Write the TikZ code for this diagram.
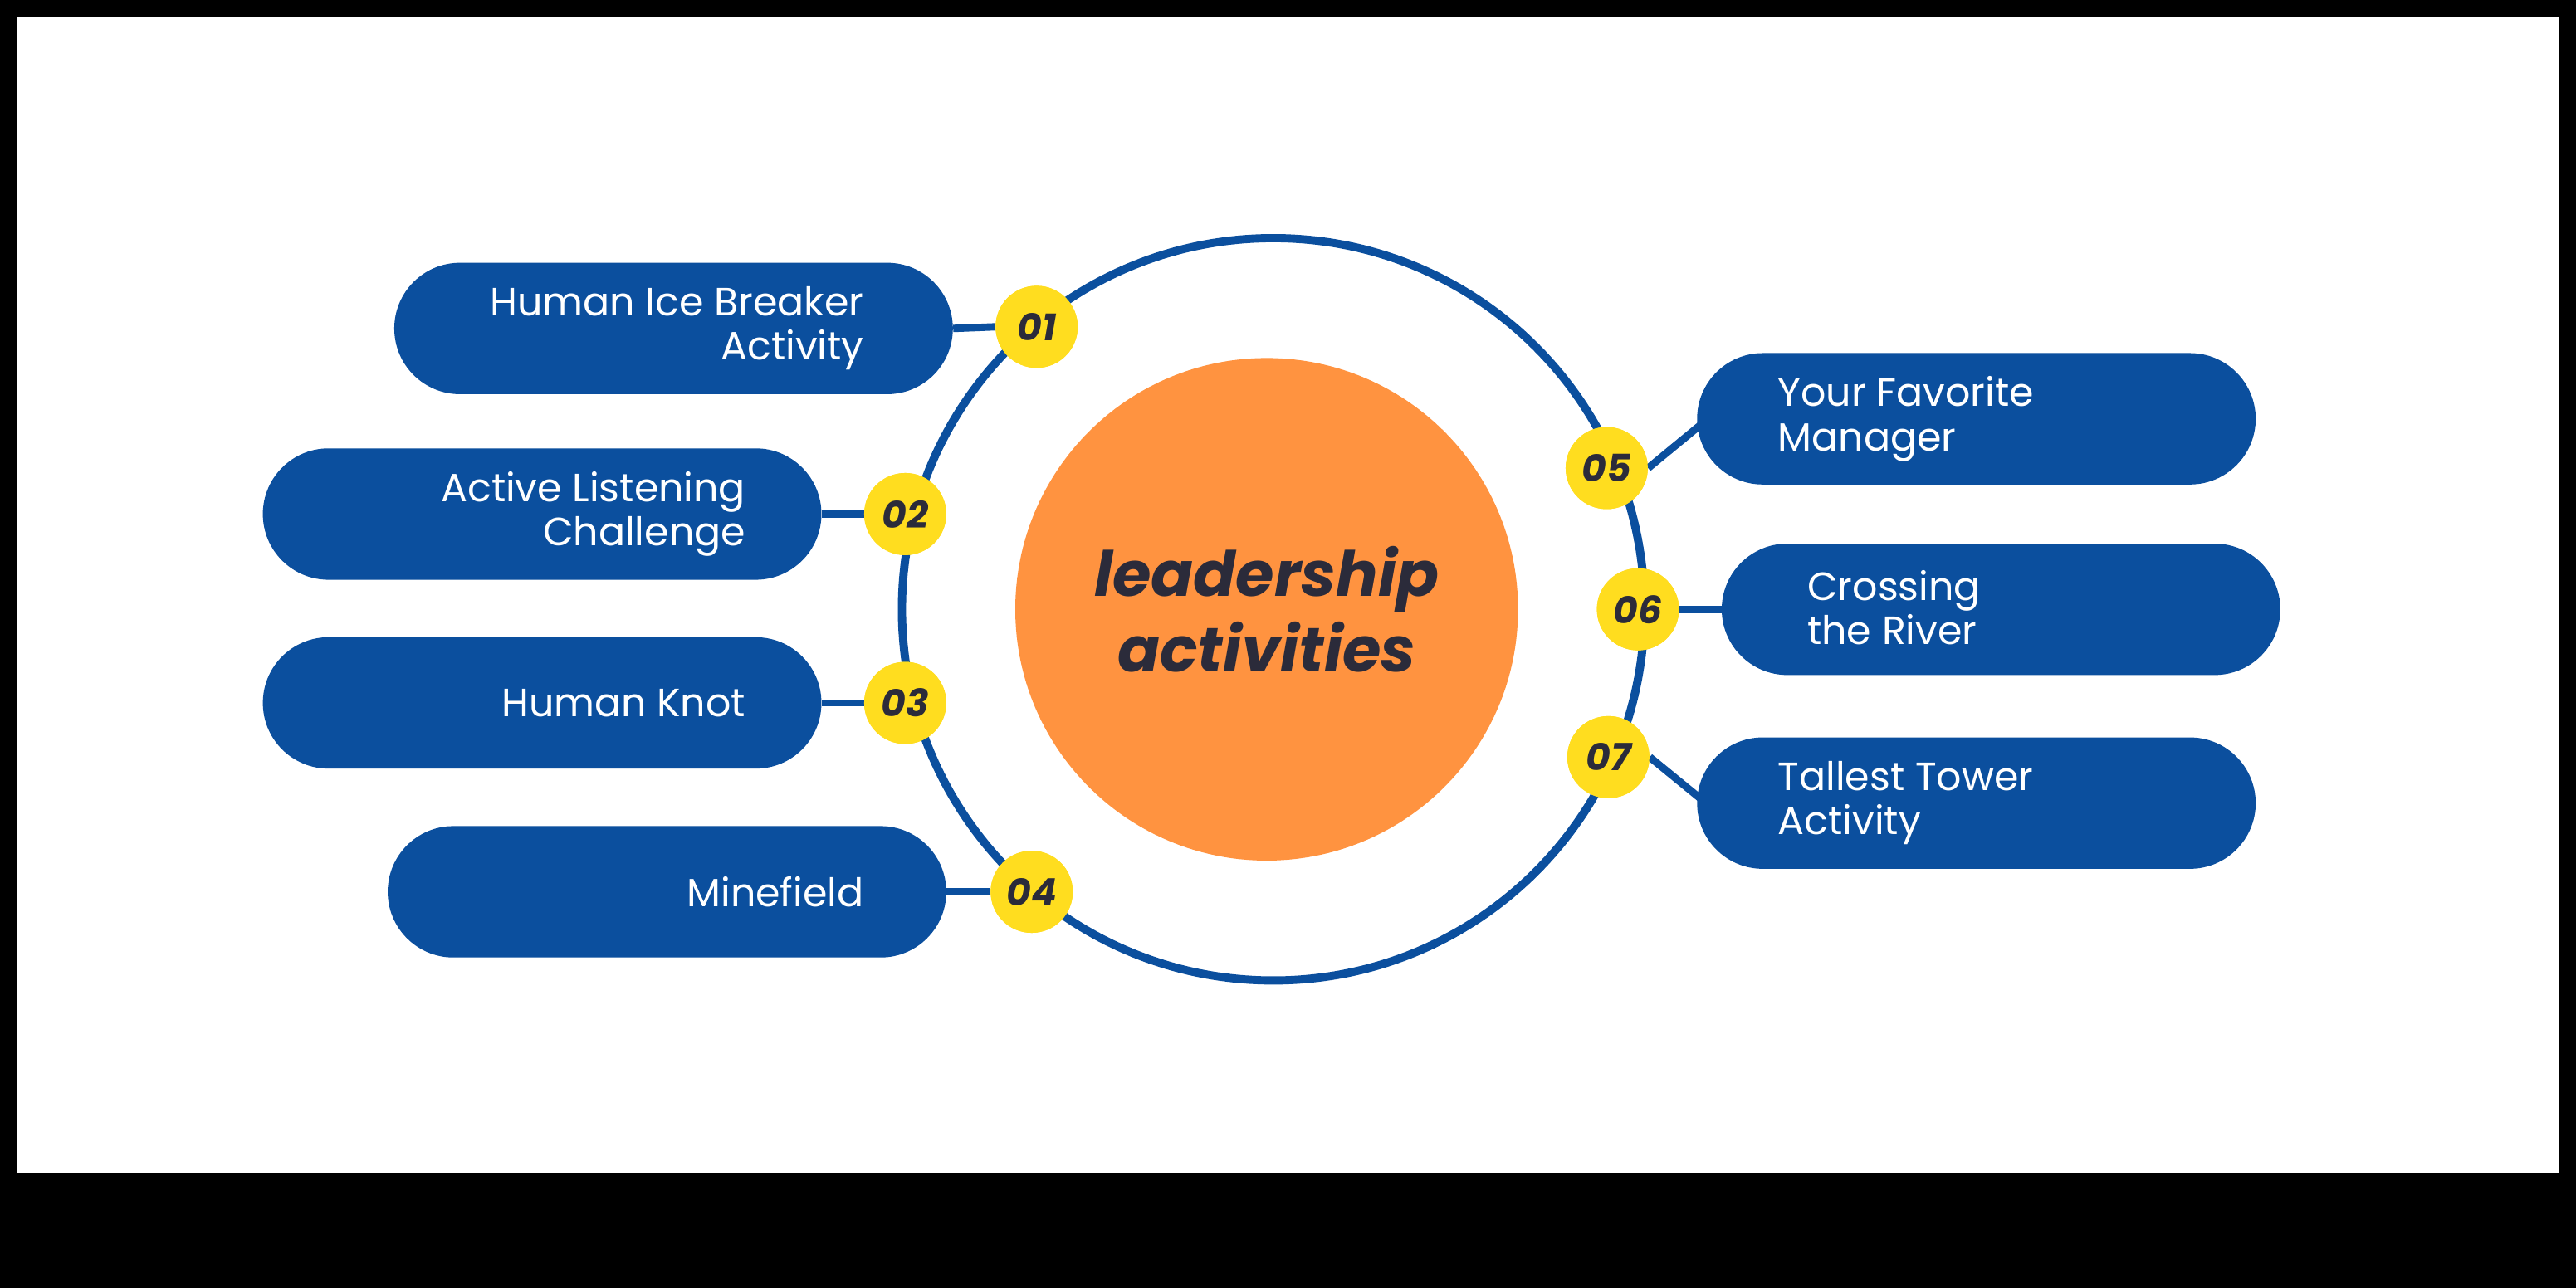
\documentclass[tikz,border=0pt]{standalone}
\usepackage{fontspec}
\setmainfont{Poppins}
\begin{document}
\definecolor{bl}{HTML}{0B4F9E}
\definecolor{org}{HTML}{FF9340}
\definecolor{yel}{HTML}{FFDD1F}
\definecolor{dk}{HTML}{2B2B3A}
\begin{tikzpicture}[x=1pt,y=-1pt,
 pill/.style={fill=bl,rounded corners=40pt,minimum width=340pt,minimum height=80pt,draw=none},
 ptxt/.style={text=white,font=\fontsize{24}{27}\selectfont,inner sep=0pt},
 num/.style={circle,fill=yel,minimum size=50pt,inner sep=0pt,font=\fontsize{23}{25}\selectfont\bfseries\itshape,text=dk},
 con/.style={draw=bl,line width=4.5pt}]
\fill (0,0) rectangle (1568,784);
\fill[white] (10,10) rectangle (1558,714);
\draw[bl,line width=5pt] (775,371) circle (226);
\node[circle,fill=org,minimum size=306pt,inner sep=0pt,align=center,text=dk,font=\fontsize{38}{46}\selectfont\bfseries\itshape] (c) at (771,371) {leadership\\activities};
% left pills
\node[pill] (p1) at (410,200) {};
\node[pill] (p2) at (330,313) {};
\node[pill] (p3) at (330,428) {};
\node[pill] (p4) at (406,543) {};
\node[pill] (p5) at (1203,255) {};
\node[pill] (p6) at (1218,371) {};
\node[pill] (p7) at (1203,489) {};
\node[ptxt,align=right,anchor=east] at (526,200) {Human Ice Breaker\\Activity};
\node[ptxt,align=right,anchor=east] at (454,313) {Active Listening\\Challenge};
\node[ptxt,align=right,anchor=east] at (454,428) {Human Knot};
\node[ptxt,align=right,anchor=east] at (526,543) {Minefield};
\node[ptxt,align=left,anchor=west] at (1082,255) {Your Favorite\\Manager};
\node[ptxt,align=left,anchor=west] at (1100,370) {Crossing\\the River};
\node[ptxt,align=left,anchor=west] at (1082,489) {Tallest Tower\\Activity};
\node[num] (n1) at (631,199) {01};
\node[num] (n2) at (551,313) {02};
\node[num] (n3) at (551,428) {03};
\node[num] (n4) at (628,543) {04};
\node[num] (n5) at (978,285) {05};
\node[num] (n6) at (997,371) {06};
\node[num] (n7) at (979,461) {07};
\begin{scope}[on background layer/.style={}]
\end{scope}
\draw[con] (n1.west) -- (p1.east);
\draw[con] (n2.west) -- (p2.east);
\draw[con] (n3.west) -- (p3.east);
\draw[con] (n4.west) -- (p4.east);
\draw[con] (n5.east) -- (1036,258) coordinate (e5);
\draw[con] (n6.east) -- (p6.west);
\draw[con] (n7.east) -- (1036,487) coordinate (e7);
\node[num] at (n1) {01};
\node[num] at (n2) {02};
\node[num] at (n3) {03};
\node[num] at (n4) {04};
\node[num] at (n5) {05};
\node[num] at (n6) {06};
\node[num] at (n7) {07};
\end{tikzpicture}
\end{document}
